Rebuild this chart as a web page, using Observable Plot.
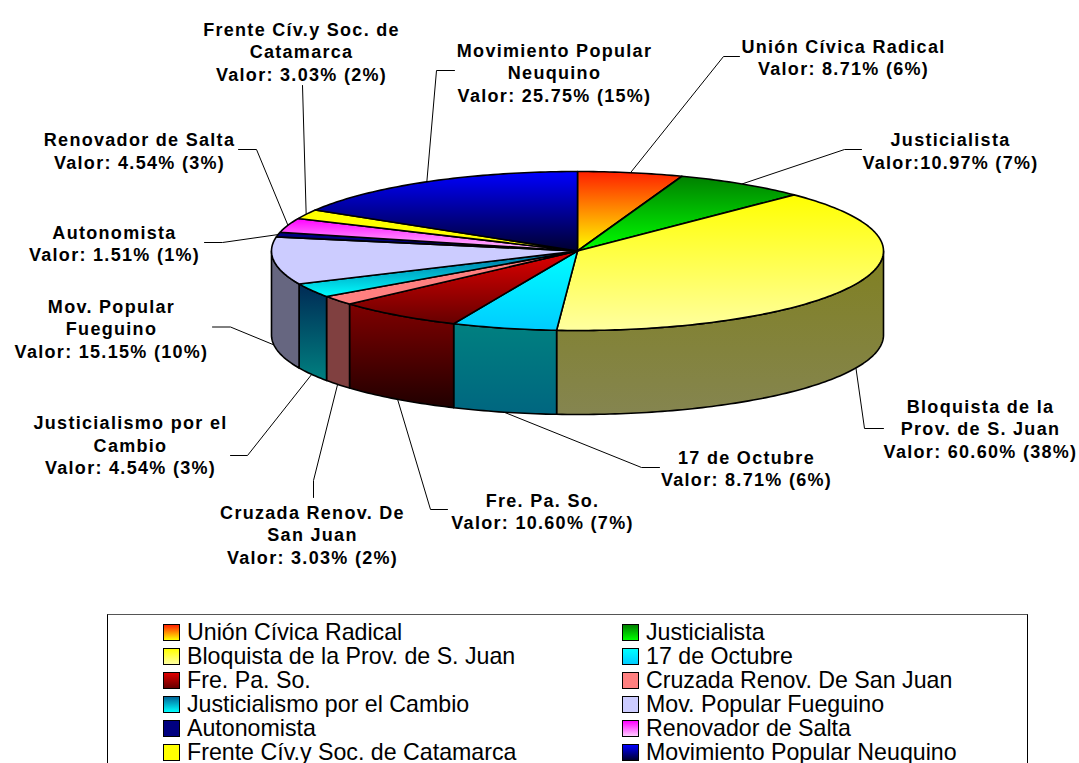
<!DOCTYPE html>
<html lang="es">
<head>
<meta charset="utf-8">
<script src="https://cdn.jsdelivr.net/npm/d3@7"></script>
<script src="https://cdn.jsdelivr.net/npm/@observablehq/plot@0.6"></script>
<style>
html, body { margin: 0; padding: 0; background: #fff; width: 1079px; height: 763px; overflow: hidden; }
#legend {
  position: absolute; left: 107px; top: 614px; width: 919px; height: 170px;
  border: 1px solid #000; border-top-color: #555; box-sizing: content-box;
  font-family: "Liberation Sans", Arial, sans-serif; font-size: 23.2px; color: #000;
}
#legend .row { position: absolute; display: flex; align-items: center; height: 24px; white-space: nowrap; }
#legend .sw { width: 15px; height: 15px; border: 1px solid #000; margin-right: 7px; flex: none; }
</style>
</head>
<body>
<div id="chart"></div>
<div id="legend"></div>
<script>
const names = ["Unión Cívica Radical","Justicialista","Bloquista de la Prov. de S. Juan","17 de Octubre","Fre. Pa. So.","Cruzada Renov. De San Juan","Justicialismo por el Cambio","Mov. Popular Fueguino","Autonomista","Renovador de Salta","Frente Cív.y Soc. de Catamarca","Movimiento Popular Neuquino"];
const values = [8.71,10.97,60.60,8.71,10.60,3.03,4.54,15.15,1.51,4.54,3.03,25.75];
const wrappedNames = ["Unión Cívica Radical","Justicialista","Bloquista de la\nProv. de S. Juan","17 de Octubre","Fre. Pa. So.","Cruzada Renov. De\nSan Juan","Justicialismo por el\nCambio","Mov. Popular\nFueguino","Autonomista","Renovador de Salta","Frente Cív.y Soc. de\nCatamarca","Movimiento Popular\nNeuquino"];
const valueTexts = ["Valor: 8.71% (6%)","Valor:10.97% (7%)","Valor: 60.60% (38%)","Valor: 8.71% (6%)","Valor: 10.60% (7%)","Valor: 3.03% (2%)","Valor: 4.54% (3%)","Valor: 15.15% (10%)","Valor: 1.51% (1%)","Valor: 4.54% (3%)","Valor: 3.03% (2%)","Valor: 25.75% (15%)"];

// Colours
const topStart = ["#ff2000","#008000","#ffff00","#00ffff","#e00000","#ff8080","#006699","#ccccff","#000080","#ff00ff","#ffff00","#0000ff"];
const topEnd   = ["#ffff00","#00ff00","#ffffa0","#00ccff","#660000","#ff8080","#00ffff","#ccccff","#000080","#ffccff","#ffff00","#000030"];
const wallStart = ["#801000","#004000","#808020","#008080","#800000","#804040","#002a55","#666680","#000040","#800080","#808000","#000080"];
const wallEnd   = ["#808000","#008000","#858550","#006680","#200000","#804040","#008080","#666680","#000040","#806680","#808000","#000018"];

// Layout: label block centres and leader-line bends
const labelX = [843,950,980,746,542,312,130,111,114,139,301,554];
const labelY = [56.5,150,427.5,467.5,510.5,533.5,444,327.5,242.5,150,50.5,71.5];
const leaderBends = [
  [[723,56],[739,56]], [[844,149],[861,149]], [[864,428],[883,428]], [[641,467],[659,467]],
  [[430,509],[447,509]], [[313,480],[313,497]], [[247,455],[230,455]], [[230,326.5],[212,326.5]],
  [[222,242],[204,242]], [[256,149],[238,149]], [[302,85]], [[436,70],[454,70]]
];

// Pie geometry derived from the values
const W = 1079, H = 614;
const cx = 577, cy = 250.5, rx = 306, ry = 79.5, depth = 84;
const total = d3.sum(values);
const cum = d3.cumsum(values);
const start = i => (i === 0 ? 0 : cum[i - 1]) / total * 360;
const end = i => cum[i] / total * 360;
const pt = (deg, dy = 0) => {
  const a = deg * Math.PI / 180;
  return {x: cx + rx * Math.sin(a), y: cy - ry * Math.cos(a) + dy};
};
const arc = (a0, a1, dy = 0) => {
  const n = Math.max(1, Math.ceil(Math.abs(a1 - a0)));
  return d3.range(n + 1).map(k => pt(a0 + (a1 - a0) * k / n, dy));
};
const topPoly = i => {
  const c = {x: cx, y: cy};
  return [c, ...arc(start(i), end(i)), c];
};
const wallPoly = i => {
  const a0 = Math.max(90, start(i)), a1 = Math.min(270, end(i));
  if (a1 <= a0) return null;
  const t = arc(a0, a1), b = arc(a1, a0, depth);
  return [...t, ...b, t[0]];
};
const leader = i => {
  const mid = (start(i) + end(i)) / 2;
  const front = mid > 90 && mid < 270;
  return [pt(mid, front ? depth : 0), ...leaderBends[i].map(([x, y]) => ({x, y}))];
};

const defs = () => {
  const d = d3.create("svg:defs");
  const grad = (id, a, b) => {
    const g = d.append("linearGradient").attr("id", id).attr("x1", 0).attr("y1", 0).attr("x2", 0).attr("y2", 1);
    g.append("stop").attr("offset", "0%").attr("stop-color", a);
    g.append("stop").attr("offset", "100%").attr("stop-color", b);
  };
  names.forEach((_, i) => {
    grad(`top${i}`, topStart[i], topEnd[i]);
    grad(`wall${i}`, wallStart[i], wallEnd[i]);
  });
  return d.node();
};

const idx = d3.range(names.length);
const line = {stroke: "#000", strokeWidth: 1.6, strokeLinejoin: "round", curve: "linear"};
const xy = {x: "x", y: "y"};

const chart = Plot.plot({
  width: W, height: H,
  margin: 0,
  x: {domain: [0, W], range: [0, W], axis: null},
  y: {domain: [0, H], range: [0, H], axis: null},
  style: {background: "#fff", color: "#000", overflow: "visible", letterSpacing: "1.3px"},
  marks: [
    defs,
    ...idx.map(i => Plot.line(leader(i), {...xy, stroke: "#000", strokeWidth: 1, curve: "linear"})),
    ...idx.filter(i => wallPoly(i)).map(i => Plot.line(wallPoly(i), {...xy, ...line, fill: `url(#wall${i})`})),
    ...idx.map(i => Plot.line(topPoly(i), {...xy, ...line, fill: `url(#top${i})`})),
    Plot.text(idx, {
      x: i => labelX[i], y: i => labelY[i],
      text: i => `${wrappedNames[i]}\n${valueTexts[i]}`,
      textAnchor: "middle", lineAnchor: "middle", lineHeight: 1.25,
      fontFamily: "Liberation Sans, Arial, sans-serif", fontWeight: 700, fontSize: 18, fill: "#000"
    })
  ]
});
document.getElementById("chart").appendChild(chart);

// Legend below the SVG, two columns filled row by row
const legend = d3.select("#legend");
names.forEach((n, i) => {
  const row = legend.append("div").attr("class", "row")
    .style("left", (i % 2 ? 514 : 55) + "px")
    .style("top", (5 + 24.1 * Math.floor(i / 2)) + "px");
  row.append("span").attr("class", "sw")
    .style("background", `linear-gradient(${topStart[i]}, ${topEnd[i]})`);
  row.append("span").text(n);
});
</script>
</body>
</html>
